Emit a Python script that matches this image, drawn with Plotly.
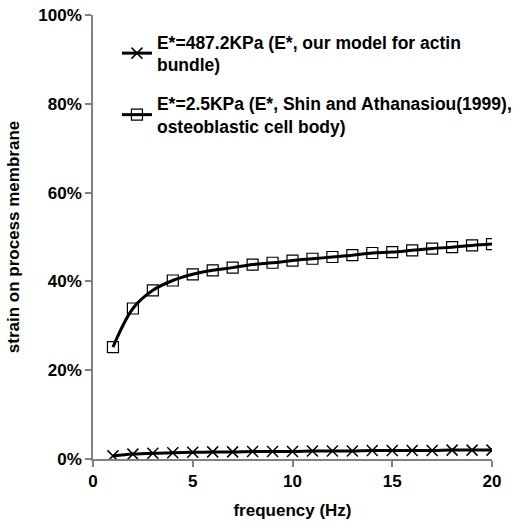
import plotly.graph_objects as go

freq = list(range(1, 21))
actin = [0.007, 0.011, 0.013, 0.014, 0.015, 0.016, 0.016, 0.017, 0.017, 0.017,
         0.018, 0.018, 0.018, 0.019, 0.019, 0.019, 0.019, 0.020, 0.020, 0.020]
cellbody = [0.252, 0.339, 0.380, 0.402, 0.416, 0.425, 0.431, 0.438, 0.442, 0.447,
            0.451, 0.455, 0.459, 0.464, 0.466, 0.470, 0.474, 0.477, 0.481, 0.484]
names = ["E*=487.2KPa (E*, our model for actin<br>bundle)",
         "E*=2.5KPa (E*, Shin and Athanasiou(1999),<br>osteoblastic cell body)"]

font = "Liberation Sans, Arial, sans-serif"
fig = go.Figure()
fig.add_trace(go.Scatter(x=freq, y=actin, name=names[0], mode="lines+markers",
                         line=dict(color="black", width=3, shape="spline"),
                         marker=dict(symbol="x-thin", size=11, line=dict(color="black", width=1.5)),
                         legendgroup="a"))
fig.add_trace(go.Scatter(x=freq, y=cellbody, name=names[1], mode="lines+markers",
                         line=dict(color="black", width=3, shape="spline"),
                         marker=dict(symbol="square-open", size=11, color="black", line=dict(width=1.2)),
                         legendgroup="b"))

fig.update_layout(
    width=518, height=526, autosize=False,
    margin=dict(l=93, r=26, t=15, b=67, autoexpand=False),
    plot_bgcolor="white", paper_bgcolor="white",
    font=dict(family=font, size=17, color="black"),
    showlegend=True,
    legend=dict(x=0.06, y=0.98, xanchor="left", yanchor="top",
                font=dict(family=font, size=17.5, color="black", weight="bold"),
                bgcolor="rgba(0,0,0,0)", tracegroupgap=13, traceorder="grouped",
                itemwidth=30),
    xaxis=dict(range=[0, 20], tickvals=[0, 5, 10, 15, 20], showgrid=False, zeroline=False,
               automargin=False,
               showline=True, linecolor="#808080", linewidth=1.5, ticks="outside",
               ticklen=6, tickcolor="#808080", tickwidth=1.5,
               tickfont=dict(family=font, size=17, weight="bold"),
               title=dict(text="frequency (Hz)", font=dict(family=font, size=17, weight="bold"),
                          standoff=14)),
    yaxis=dict(range=[0, 1], tickvals=[0, 0.2, 0.4, 0.6, 0.8, 1.0], tickformat=".0%",
               showgrid=False, zeroline=False, automargin=False,
               showline=True, linecolor="#808080", linewidth=1.5, ticks="outside",
               ticklen=6, tickcolor="#808080", tickwidth=1.5,
               tickfont=dict(family=font, size=17, weight="bold"),
               title=dict(text="strain on process membrane", font=dict(family=font, size=17, weight="bold"),
                          standoff=14)),
)
fig.write_html("out.html", config={"displayModeBar": False, "responsive": False},
               post_script="document.body.style.margin='0';document.body.style.overflow='hidden';")
